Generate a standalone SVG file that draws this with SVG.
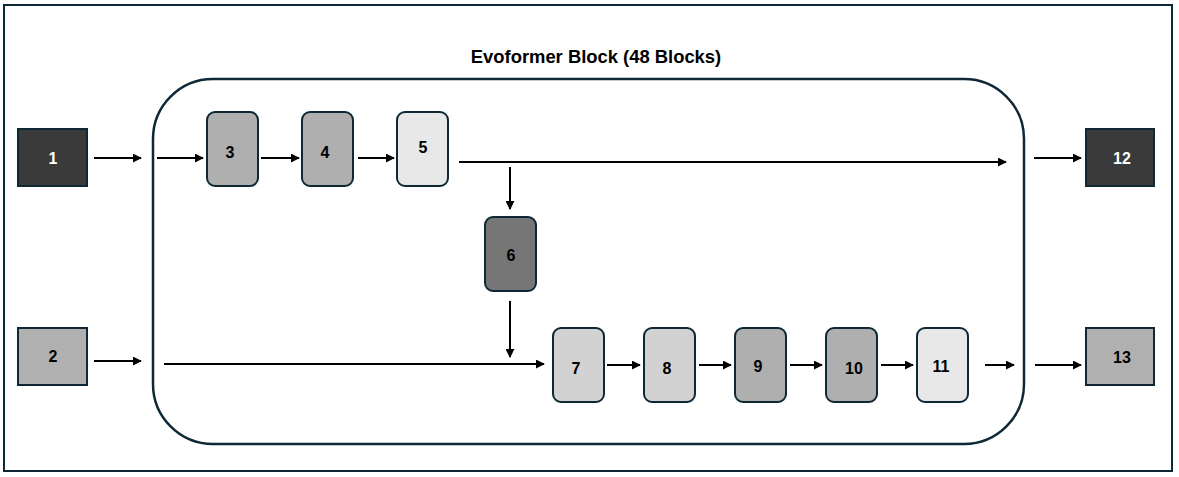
<svg xmlns="http://www.w3.org/2000/svg" width="1179" height="477" viewBox="0 0 1179 477">
<style>
.frame{fill:#fff;stroke:#0e2835;stroke-width:2}
.block{fill:none;stroke:#0e2835;stroke-width:2.5}
.n{stroke:#0e2835;stroke-width:2}
.t{font-family:"Liberation Sans",Arial,sans-serif;font-weight:bold;font-size:16px;text-anchor:middle;dominant-baseline:central;fill:#000}
.w{fill:#fff}
.title{font-family:"Liberation Sans",Arial,sans-serif;font-weight:bold;font-size:18.4px;text-anchor:middle;fill:#000}
.c line{stroke:#000;stroke-width:2;marker-end:url(#ah)}
</style>
<defs>
<marker id="ah" viewBox="0 0 10 10" refX="9" refY="5" markerWidth="4.5" markerHeight="4.5" markerUnits="strokeWidth" orient="auto">
<path d="M0,0 L10,5 L0,10 z" fill="#000"/>
</marker>
</defs>
<rect class="frame" x="4" y="5" width="1168" height="466"/>
<g id="evoformer">
<rect class="block" x="153" y="79" width="871" height="365" rx="60" ry="60"/>
<text class="title" x="596" y="63">Evoformer Block (48 Blocks)</text>
</g>
<g id="n1"><rect class="n" x="18" y="129" width="69" height="57" fill="#3a3a3a"/><text class="t w" x="53" y="158">1</text></g>
<g id="n2"><rect class="n" x="18" y="328" width="69" height="57" fill="#b0b0b0"/><text class="t" x="53" y="356">2</text></g>
<g id="n3"><rect class="n" x="207" y="112" width="51" height="74" rx="8" fill="#afafaf"/><text class="t" x="230" y="152">3</text></g>
<g id="n4"><rect class="n" x="302" y="112" width="51" height="74" rx="8" fill="#afafaf"/><text class="t" x="325" y="152">4</text></g>
<g id="n5"><rect class="n" x="397" y="112" width="51" height="74" rx="8" fill="#e8e8e8"/><text class="t" x="423" y="147">5</text></g>
<g id="n6"><rect class="n" x="485" y="217" width="51" height="74" rx="8" fill="#767676"/><text class="t" x="511" y="255">6</text></g>
<g id="n7"><rect class="n" x="553" y="328" width="51" height="74" rx="8" fill="#d2d2d2"/><text class="t" x="576" y="368">7</text></g>
<g id="n8"><rect class="n" x="644" y="328" width="51" height="74" rx="8" fill="#d2d2d2"/><text class="t" x="667" y="368">8</text></g>
<g id="n9"><rect class="n" x="735" y="328" width="51" height="74" rx="8" fill="#afafaf"/><text class="t" x="758" y="366">9</text></g>
<g id="n10"><rect class="n" x="826" y="328" width="51" height="74" rx="8" fill="#afafaf"/><text class="t" x="854" y="368">10</text></g>
<g id="n11"><rect class="n" x="917" y="328" width="51" height="74" rx="8" fill="#e8e8e8"/><text class="t" x="941" y="366">11</text></g>
<g id="n12"><rect class="n" x="1086" y="129" width="68" height="57" fill="#3a3a3a"/><text class="t w" x="1122" y="158">12</text></g>
<g id="n13"><rect class="n" x="1086" y="328" width="68" height="57" fill="#b0b0b0"/><text class="t" x="1122" y="357">13</text></g>
<g id="connectors" class="c">
<line x1="94" y1="158" x2="141" y2="158"/>
<line x1="157" y1="158" x2="203" y2="158"/>
<line x1="261" y1="158" x2="299" y2="158"/>
<line x1="358" y1="158" x2="394" y2="158"/>
<line x1="459" y1="162" x2="1006" y2="162"/>
<line x1="510" y1="167" x2="510" y2="209"/>
<line x1="510" y1="301" x2="510" y2="357"/>
<line x1="94" y1="361" x2="141" y2="361"/>
<line x1="164" y1="364" x2="544" y2="364"/>
<line x1="607" y1="365" x2="640" y2="365"/>
<line x1="699" y1="365" x2="731" y2="365"/>
<line x1="790" y1="365" x2="822" y2="365"/>
<line x1="881" y1="365" x2="913" y2="365"/>
<line x1="985" y1="365" x2="1014" y2="365"/>
<line x1="1034" y1="158" x2="1081" y2="158"/>
<line x1="1035" y1="365" x2="1081" y2="365"/>
</g>
</svg>
